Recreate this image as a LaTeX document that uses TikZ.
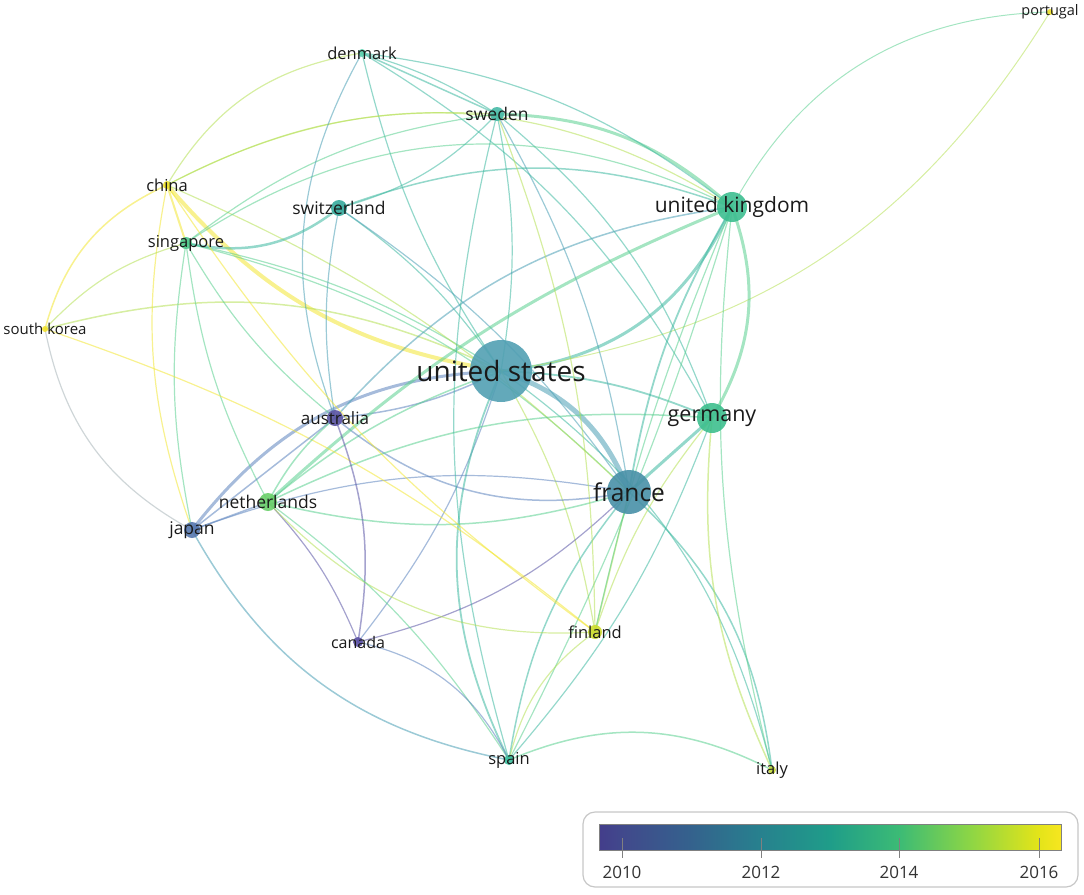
\documentclass[tikz,border=0pt]{standalone}
\usepackage{fontspec}
\setmainfont{Open Sans}
\usetikzlibrary{positioning}
\pgfdeclarelayer{edges}
\pgfsetlayers{edges,main}

\definecolor{y10}{HTML}{5A55A5}
\definecolor{y11}{HTML}{5C84BE}
\definecolor{y12}{HTML}{4A9FB5}
\definecolor{y13}{HTML}{3DB8A0}
\definecolor{y14}{HTML}{5ACF8F}
\definecolor{y15}{HTML}{B5E055}
\definecolor{y16}{HTML}{F2E633}
\definecolor{ygr}{HTML}{A8B4B8}

\definecolor{cUS}{HTML}{52A0B3}
\definecolor{cFR}{HTML}{4890A7}
\definecolor{cDE}{HTML}{3EBF8E}
\definecolor{cUK}{HTML}{3DBE90}
\definecolor{cSE}{HTML}{47B9A6}
\definecolor{cDK}{HTML}{5ED2B0}
\definecolor{cCH}{HTML}{36AA9C}
\definecolor{cCN}{HTML}{EDE02C}
\definecolor{cSG}{HTML}{4FC98B}
\definecolor{cKR}{HTML}{F1E12E}
\definecolor{cAU}{HTML}{5952A2}
\definecolor{cNL}{HTML}{69CF69}
\definecolor{cJP}{HTML}{5577AE}
\definecolor{cCA}{HTML}{5C51A6}
\definecolor{cFI}{HTML}{CDDC2E}
\definecolor{cES}{HTML}{3ABF9E}
\definecolor{cIT}{HTML}{C8DC3C}
\definecolor{cPT}{HTML}{EFE02A}
\definecolor{txt}{HTML}{1A1A1A}

\pgfdeclarehorizontalshading{viridis}{100bp}{color(0bp)=(y10);
  color(25bp)=({rgb,255:red,67;green,61;blue,139});
  color(27.5bp)=({rgb,255:red,65;green,73;blue,140});
  color(35bp)=({rgb,255:red,52;green,98;blue,141});
  color(42.5bp)=({rgb,255:red,39;green,129;blue,142});
  color(50bp)=({rgb,255:red,31;green,157;blue,137});
  color(57.5bp)=({rgb,255:red,60;green,187;blue,117});
  color(65bp)=({rgb,255:red,139;green,213;blue,70});
  color(72.5bp)=({rgb,255:red,227;green,228;blue,25});
  color(75bp)=({rgb,255:red,247;green,230;blue,32});
  color(100bp)=(y16)}

\tikzset{
  dot/.style={circle, inner sep=0pt, draw=none, fill opacity=0.9},
  lbl/.style={font=\fontsize{#1}{#1}\selectfont, inner sep=0pt, text=txt},
  edge/.style={line cap=round, draw opacity=0.55},
}

\begin{document}
\begin{tikzpicture}[x=1pt, y=-1pt]
    \useasboundingbox (0,0) rectangle (1084,894);

    \foreach \n/\x/\y/\r/\c/\s/\t in {us/501/371/31/cUS/28/united states,
        fr/629/492/22/cFR/24.5/france, de/712/418/15/cDE/21.5/germany,
        uk/732/207/15/cUK/21/united kingdom, se/497/114/7/cSE/17.5/sweden,
        dk/362/53/4/cDK/16.5/denmark, ch/339/208/8/cCH/17.5/switzerland,
        cn/167/185/4/cCN/16.5/china, sg/186/243/6/cSG/16.5/singapore,
        kr/45/329/3/cKR/15/south korea, au/335/418/8/cAU/17/australia,
        nl/268/502/9/cNL/17.5/netherlands, jp/192/530/8/cJP/17.5/japan,
        ca/358/642/5/cCA/16/canada, fi/595/632/7/cFI/16.5/finland,
        es/509/760/5/cES/16.5/spain, it/772/770/4/cIT/16.5/italy,
        pt/1050/12/3/cPT/14.5/portugal} {
        \node[dot, minimum size={2*\r pt}, fill=\c] (\n) at (\x,\y) {};
        \node[lbl=\s] (\n-t) at (\n) {\t};
    }

    \begin{pgfonlayer}{edges}
    \foreach \a/\b/\c/\w/\k in {us/uk/y13/3/30, us/fr/y12/5/-25, us/de/y13/1.8/-10,
        us/se/y13/1.2/10, us/dk/y13/1.2/-10, us/ch/y13/1.2/10, cn/us/y16/4/20,
        us/sg/y14/1.2/10, us/kr/y15/1.5/20, us/au/y11/1.5/-10, jp/us/y11/3/-25,
        us/nl/y14/1.5/10, us/ca/y11/1.2/-10, us/es/y13/1.8/25, us/fi/y15/1.2/-10,
        us/it/y13/1.2/-20, us/pt/y15/1/25,
        uk/fr/y13/1.8/10, de/fr/y13/3/0, fr/se/y12/1.2/10, fr/ch/y12/1.2/10,
        fr/au/y11/1.5/-25, fr/jp/y11/1.2/15, fr/nl/y14/1.5/-15, fr/ca/y10/1.2/-15,
        fr/es/y13/1.5/15, fr/fi/y15/1.5/0, fr/it/y13/1.5/-20, fr/sg/y14/1.2/15,
        fr/cn/y15/1.2/10,
        uk/de/y14/3/-25, de/se/y13/1.2/15, de/it/y15/1.5/15, de/fi/y15/1.2/10,
        de/nl/y14/1.5/15, de/dk/y13/1.2/15, de/es/y13/1.2/-10,
        se/uk/y14/3/-20, uk/dk/y13/1.2/15, uk/ch/y13/1.5/20, uk/sg/y14/1.2/30,
        uk/cn/y15/1.2/30, uk/nl/y14/3/10, uk/au/y12/1.5/20, uk/it/y14/1.2/10,
        uk/fi/y14/1.2/5, uk/pt/y14/1/-30, uk/es/y14/1.2/-5,
        se/dk/y13/1.5/0, dk/se/y13/1.2/-8, se/ch/y13/1.2/-15, se/sg/y14/1.2/15,
        se/cn/y15/1.2/15, se/fi/y15/1.2/-10, se/es/y13/1.2/15,
        dk/cn/y15/1.2/25, dk/au/y12/1.2/25, ch/sg/y13/2.5/-25, ch/au/y12/1.2/10,
        cn/sg/y16/2/0, cn/kr/y16/1.5/25, cn/jp/y16/1.2/15, cn/fi/y16/1.2/10,
        kr/jp/ygr/1.2/25, sg/kr/y15/1.2/15, sg/nl/y14/1.2/10, sg/jp/y14/1.2/10,
        sg/au/y14/1.2/10, kr/fi/y16/1.2/-10,
        au/jp/y11/1.5/0, au/nl/y14/1.5/10, au/ca/y10/1.5/-15, nl/ca/y10/1.2/-10,
        nl/jp/y11/1.5/0, nl/fi/y15/1.2/25, nl/es/y14/1.2/-10,
        jp/es/y12/1.5/25, ca/es/y11/1.2/-25, fi/es/y15/1.2/20, es/it/y14/1.5/-25} {
        \draw[edge, draw=\c, line width=\w pt] (\a.center) to[bend right=\k] (\b.center);
    }
    \end{pgfonlayer}

    \draw[rounded corners=12pt, draw=black!22, line width=1.2pt, fill=white]
        (583,812) rectangle (1078,887);
    \shade[shading=viridis] (599,824) rectangle (1061,850);
    \draw[draw=black!50, line width=1pt] (599,824) rectangle (1061,850);
    \foreach \yr/\px in {2010/622, 2012/761, 2014/899, 2016/1039} {
        \draw[draw=black!50, line width=1pt] (\px,838) -- (\px,858);
        \node[lbl=17, text=black!80] (yr\yr) at (\px,872) {\yr};
    }
\end{tikzpicture}
\end{document}
